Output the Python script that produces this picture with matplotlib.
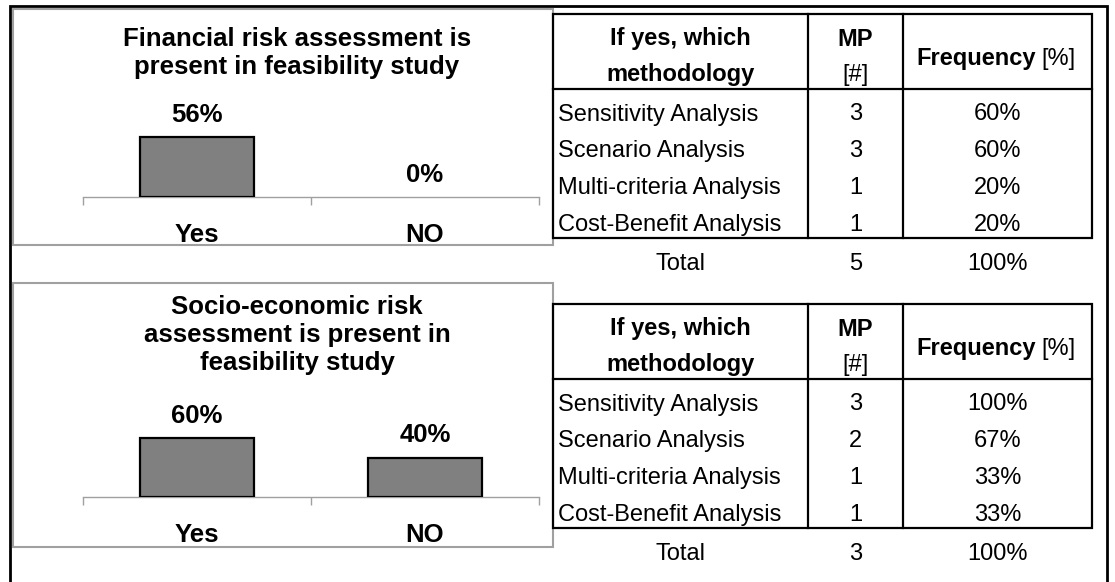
import matplotlib
matplotlib.use("Agg")
import matplotlib.pyplot as plt
from matplotlib.patches import Rectangle
from matplotlib.lines import Line2D

W, H = 1115, 582

# bar charts
categories = ["Yes", "NO"]
financial_pct = [56, 0]
socio_pct = [60, 40]
financial_title = "Financial risk assessment is\npresent in feasibility study"
socio_title = "Socio-economic risk\nassessment is present in\nfeasibility study"

# tables
methods = ["Sensitivity Analysis", "Scenario Analysis",
           "Multi-criteria Analysis", "Cost-Benefit Analysis"]
financial_mp = [3, 3, 1, 1]
financial_freq = [60, 60, 20, 20]
financial_total = [5, 100]
socio_mp = [3, 2, 1, 1]
socio_freq = [100, 67, 33, 33]
socio_total = [3, 100]

plt.rcParams['font.family'] = ['Liberation Sans', 'DejaVu Sans']

fig = plt.figure(figsize=(W / 100, H / 100), dpi=100)
fig.patch.set_facecolor('white')

CHART_FS = 18.5
TABLE_FS = 17
CAP = 8.5  # half cap height in px, turns a text centre into a baseline


def fx(x):
    return x / W


def fy(y):
    return 1 - y / H


def rect(x0, y0, x1, y1, **kw):
    fig.add_artist(Rectangle((fx(x0), fy(y1)), fx(x1) - fx(x0), fy(y0) - fy(y1),
                             transform=fig.transFigure, fill=False, **kw))


def line(x0, y0, x1, y1, **kw):
    fig.add_artist(Line2D([fx(x0), fx(x1)], [fy(y0), fy(y1)],
                          transform=fig.transFigure, **kw))


def txt(x, y, s, **kw):
    fig.text(fx(x), fy(y + CAP), s, va='baseline', **kw)


# outer frame (bottom edge is off the picture)
rect(10, 6, 1107, 640, edgecolor='black', linewidth=2)


def bar_panel(top, bottom, axis_y, px_per_pct, title, title_y, values):
    rect(13, top, 553, bottom, edgecolor='#a0a0a0', linewidth=1.5)
    fig.text(fx(297), fy(title_y), title, ha='center', va='center',
             fontsize=CHART_FS, fontweight='bold')

    ax_h = 100
    ax = fig.add_axes([fx(83), fy(axis_y), fx(539) - fx(83), ax_h / H])
    ax.patch.set_visible(False)
    # a 0% bar shows nothing, not even its outline
    edges = [1.6 if v > 0 else 0 for v in values]
    ax.bar(range(len(values)), values, width=0.5, color='#808080',
           edgecolor='black', linewidth=edges, zorder=3)
    ax.set_xlim(-0.5, len(values) - 0.5)
    ax.set_ylim(0, ax_h / px_per_pct)
    for side in ['top', 'left', 'right']:
        ax.spines[side].set_visible(False)
    ax.spines['bottom'].set_color('#a0a0a0')
    ax.spines['bottom'].set_linewidth(1)
    ax.set_yticks([])
    ax.set_xticks([i - 0.5 for i in range(len(values) + 1)])
    ax.set_xticklabels([])
    ax.tick_params(axis='x', length=6, width=1, color='#a0a0a0', direction='out')

    for i, v in enumerate(values):
        ax.annotate(f"{v}%", xy=(i, v), xytext=(0, 24 - CAP), textcoords='offset pixels',
                    ha='center', va='baseline', fontsize=CHART_FS, fontweight='bold')
        ax.annotate(categories[i], xy=(i, 0), xytext=(0, -37 - CAP), textcoords='offset pixels',
                    ha='center', va='baseline', fontsize=CHART_FS, fontweight='bold')


def method_table(top, mp, freq, total):
    left, c1, c2, right = 553, 808, 903, 1092
    head_bottom = top + 75
    bottom = head_bottom + 149
    lw = 1.6
    rect(left, top, right, bottom, edgecolor='black', linewidth=lw)
    line(left, head_bottom, right, head_bottom, color='black', linewidth=lw)
    line(c1, top, c1, bottom, color='black', linewidth=lw)
    line(c2, top, c2, bottom, color='black', linewidth=lw)

    mid0 = (left + c1) / 2
    mid1 = (c1 + c2) / 2
    mid2 = (c2 + right) / 2
    txt(mid0, top + 23, "If yes, which", ha='center', fontsize=TABLE_FS, fontweight='bold')
    txt(mid0, top + 59, "methodology", ha='center', fontsize=TABLE_FS, fontweight='bold')
    txt(mid1, top + 23, "MP", ha='center', fontsize=TABLE_FS, fontweight='bold')
    txt(mid1, top + 59, "[#]", ha='center', fontsize=TABLE_FS)
    txt(1036, top + 42, "Frequency", ha='right', fontsize=TABLE_FS, fontweight='bold')
    txt(1041, top + 42, "[%]", ha='left', fontsize=TABLE_FS)

    for i, name in enumerate(methods):
        y = head_bottom + 23 + 36.7 * i
        txt(left + 5, y, name, ha='left', fontsize=TABLE_FS)
        txt(mid1, y, str(mp[i]), ha='center', fontsize=TABLE_FS)
        txt(mid2, y, f"{freq[i]}%", ha='center', fontsize=TABLE_FS)

    y = bottom + 23
    txt(mid0, y, "Total", ha='center', fontsize=TABLE_FS)
    txt(mid1, y, str(total[0]), ha='center', fontsize=TABLE_FS)
    txt(mid2, y, f"{total[1]}%", ha='center', fontsize=TABLE_FS)


bar_panel(9, 245, 197, 1.07, financial_title, 53, financial_pct)
bar_panel(283, 547, 497, 0.98, socio_title, 335, socio_pct)

method_table(14, financial_mp, financial_freq, financial_total)
method_table(304, socio_mp, socio_freq, socio_total)

plt.savefig("out.png", dpi=100)
